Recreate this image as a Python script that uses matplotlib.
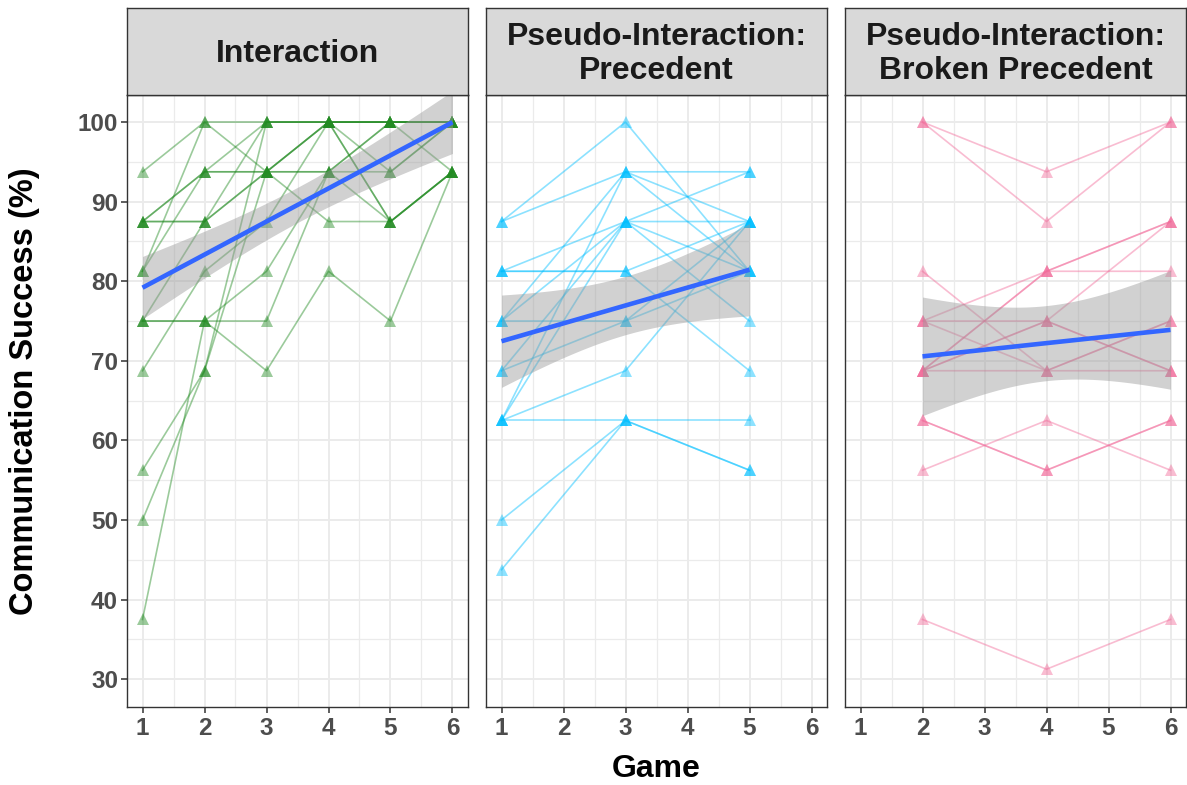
import numpy as np
import matplotlib
matplotlib.use("Agg")
import matplotlib.pyplot as plt

plt.rcParams['font.family'] = ['Liberation Sans', 'DejaVu Sans']

# ---------------- data ----------------
panel_titles = ["Interaction", "Pseudo-Interaction:\nPrecedent", "Pseudo-Interaction:\nBroken Precedent"]
panel_colors = ["#228B22", "#00BFFF", "#F26B9A"]

interaction_games = [1, 2, 3, 4, 5, 6]
interaction_scores = [
    [93.75, 100, 93.75, 87.5, 87.5, 93.75],
    [87.5, 93.75, 100, 100, 100, 100],
    [87.5, 87.5, 93.75, 100, 100, 100],
    [87.5, 87.5, 100, 100, 100, 93.75],
    [81.25, 93.75, 93.75, 93.75, 93.75, 100],
    [75, 75, 75, 93.75, 100, 100],
    [75, 87.5, 93.75, 100, 87.5, 93.75],
    [75, 75, 68.75, 81.25, 75, 93.75],
    [68.75, 81.25, 87.5, 100, 100, 100],
    [56.25, 68.75, 100, 100, 93.75, 100],
    [50, 68.75, 93.75, 100, 100, 100],
    [37.5, 75, 81.25, 93.75, 100, 100],
    [81.25, 100, 100, 100, 87.5, 93.75],
    [87.5, 93.75, 93.75, 93.75, 87.5, 93.75],
]

precedent_games = [1, 3, 5]
precedent_scores = [
    [87.5, 100, 81.25],
    [87.5, 93.75, 93.75],
    [81.25, 87.5, 93.75],
    [81.25, 81.25, 87.5],
    [75, 93.75, 87.5],
    [62.5, 93.75, 81.25],
    [75, 87.5, 75],
    [68.75, 87.5, 81.25],
    [62.5, 87.5, 87.5],
    [75, 75, 87.5],
    [68.75, 75, 81.25],
    [62.5, 68.75, 87.5],
    [62.5, 62.5, 62.5],
    [50, 62.5, 56.25],
    [43.75, 62.5, 56.25],
    [81.25, 81.25, 68.75],
]

broken_games = [2, 4, 6]
broken_scores = [
    [100, 93.75, 100],
    [100, 87.5, 100],
    [81.25, 68.75, 68.75],
    [75, 81.25, 81.25],
    [75, 68.75, 75],
    [68.75, 81.25, 87.5],
    [68.75, 81.25, 87.5],
    [68.75, 75, 87.5],
    [68.75, 75, 68.75],
    [75, 75, 68.75],
    [68.75, 68.75, 75],
    [62.5, 56.25, 62.5],
    [62.5, 56.25, 62.5],
    [56.25, 62.5, 56.25],
    [37.5, 31.25, 37.5],
]

x_ticks = [1, 2, 3, 4, 5, 6]
y_ticks = [30, 40, 50, 60, 70, 80, 90, 100]
x_label = "Game"
y_label = "Communication Success (%)"

panels = [
    (interaction_games, interaction_scores),
    (precedent_games, precedent_scores),
    (broken_games, broken_scores),
]


def t_quantile_975(df):
    z = 1.959963985
    return (z + (z**3 + z) / (4 * df) + (5 * z**5 + 16 * z**3 + 3 * z) / (96 * df**2)
            + (3 * z**7 + 19 * z**5 + 17 * z**3 - 15 * z) / (384 * df**3))


def lm_fit(games, scores):
    xs, ys = [], []
    for row in scores:
        xs.extend(games)
        ys.extend(row)
    x = np.array(xs, float)
    y = np.array(ys, float)
    n = len(x)
    xb = x.mean()
    sxx = ((x - xb) ** 2).sum()
    b = ((x - xb) * (y - y.mean())).sum() / sxx
    a = y.mean() - b * xb
    resid = y - (a + b * x)
    s = np.sqrt((resid ** 2).sum() / (n - 2))
    xg = np.linspace(x.min(), x.max(), 80)
    yg = a + b * xg
    se = s * np.sqrt(1.0 / n + (xg - xb) ** 2 / sxx)
    t = t_quantile_975(n - 2)
    return xg, yg, yg - t * se, yg + t * se


# ---------------- figure ----------------
W, H = 1187, 785
fig = plt.figure(figsize=(W / 100, H / 100), dpi=100)

lefts = [127, 486, 845]
pw = 341
top_px, bot_px = 95, 707
strip_top = 8
ylim = (26.5, 103.4)
xlim = (0.75, 6.25)

for i, ((games, scores), title, col) in enumerate(zip(panels, panel_titles, panel_colors)):
    ax = fig.add_axes([lefts[i] / W, (H - bot_px) / H, pw / W, (bot_px - top_px) / H])
    ax.set_facecolor("white")
    ax.set_xlim(*xlim)
    ax.set_ylim(*ylim)
    ax.set_xticks(x_ticks)
    ax.set_yticks(y_ticks)
    ax.set_xticks([1.5, 2.5, 3.5, 4.5, 5.5], minor=True)
    ax.set_yticks([35, 45, 55, 65, 75, 85, 95], minor=True)
    ax.grid(True, which="major", color="#EBEBEB", lw=1.4, zorder=0)
    ax.grid(True, which="minor", color="#EBEBEB", lw=0.9, zorder=0)
    ax.set_axisbelow(True)
    for sp in ax.spines.values():
        sp.set_color("#333333")
        sp.set_linewidth(1.0)
    ax.tick_params(which="minor", length=0)
    ax.tick_params(which="major", color="#333333", width=1.1, length=4.5,
                   labelsize=17.5, labelcolor="#4D4D4D")
    ax.tick_params(axis="x", pad=3)
    ax.tick_params(axis="y", pad=2)
    for lab in ax.get_xticklabels() + ax.get_yticklabels():
        lab.set_fontweight("bold")
    if i > 0:
        ax.tick_params(axis="y", left=False, labelleft=False)

    for row in scores:
        ax.plot(games, row, color=col, alpha=0.45, lw=1.2, zorder=2)
        ax.plot(games, row, ls="none", marker="^", ms=8.5, color=col, alpha=0.45,
                markeredgewidth=0, zorder=3)

    xg, yg, lo, hi = lm_fit(games, scores)
    ax.fill_between(xg, lo, hi, color="#999999", alpha=0.45, lw=0, zorder=4)
    ax.plot(xg, yg, color="#3366FF", lw=3.3, zorder=5, solid_capstyle="butt")

    # strip
    sax = fig.add_axes([lefts[i] / W, (H - top_px) / H, pw / W, (top_px - strip_top) / H])
    sax.set_facecolor("#D9D9D9")
    sax.set_xticks([])
    sax.set_yticks([])
    for sp in sax.spines.values():
        sp.set_color("#333333")
        sp.set_linewidth(1.0)
    sax.text(0.5, 0.47, title, ha="center", va="center", fontsize=23, fontweight="bold",
             color="#1A1A1A", linespacing=1.15, transform=sax.transAxes)

fig.text(656 / W, 1 - 769 / H, x_label, ha="center", va="center", fontsize=23,
         fontweight="bold", color="black")
fig.text(25 / W, 1 - 391 / H, y_label, ha="center", va="center", rotation=90,
         fontsize=23.5, fontweight="bold", color="black")

fig.savefig("out.png", dpi=100)
